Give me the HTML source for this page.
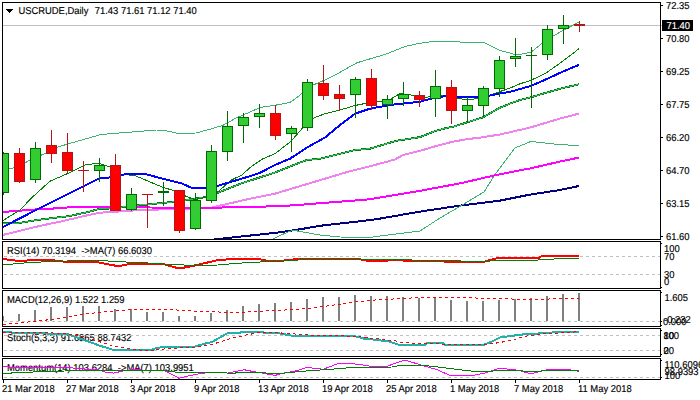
<!DOCTYPE html>
<html><head><meta charset="utf-8"><style>
html,body{margin:0;padding:0;background:#fff;width:700px;height:400px;overflow:hidden}
svg{display:block}
text{white-space:pre}
</style></head><body>
<svg width="700" height="400" viewBox="0 0 700 400" font-family='"Liberation Sans", sans-serif'>
<rect x="0" y="0" width="700" height="400" fill="#ffffff"/>
<defs>
<clipPath id="c0"><rect x="3" y="3" width="657" height="236"/></clipPath>
<clipPath id="c1"><rect x="3" y="242" width="657" height="46"/></clipPath>
<clipPath id="c2"><rect x="3" y="291" width="657" height="35"/></clipPath>
<clipPath id="c3"><rect x="3" y="329" width="657" height="27"/></clipPath>
<clipPath id="c4"><rect x="3" y="359" width="657" height="20"/></clipPath>
</defs>
<g clip-path="url(#c0)">
<rect x="3" y="25" width="657" height="1" fill="#c0c0c0"/>
<polyline points="150,246.8 211,239.8 280,232.3 300,229.3 320,225.8 370,220.1 380,218.6 420,211.6 460,205.6 500,200.6 520,196.6 530,194.6 560,190 579,186" fill="none" stroke="#000080" stroke-width="2" shape-rendering="crispEdges" stroke-linejoin="round"/>
<polyline points="262,244 272,239.5 280,235.5 290,231.2 295,230.5 300,231.5 320,235 340,237 370,237.5 380,236 420,231 440,218 460,206.4 484,192 494,176 506,160 515,148 531,141.4 557,144.4 579,145.6" fill="none" stroke="#3cb371" stroke-width="1" shape-rendering="crispEdges" stroke-linejoin="round"/>
<polyline points="3,234.9 40,225.9 63,221 86,215.6 100,212.7 115,211.8 140,210 180,209 212,207.5 250,198.7 275,193.7 300,186.2 325,178.7 350,171.2 370,166.2 380,163.6 395,159.5 403,155 420,150.8 435,146.4 451,142.1 466,139.3 480,137.6 500,134.5 530,127.6 560,118.6 579,113.6" fill="none" stroke="#ee82ee" stroke-width="2" shape-rendering="crispEdges" stroke-linejoin="round"/>
<polyline points="3,212 35,209.5 51,208.7 67,207.5 83,207 115,207 150,207.5 200,208.0 280,206.2 295,205.2 320,203.2 370,199.3 380,197.5 420,190.8 460,183.4 494,175.5 520,170.3 530,168.5 560,161.5 579,157.6" fill="none" stroke="#ff00ff" stroke-width="2" shape-rendering="crispEdges" stroke-linejoin="round"/>
<polyline points="3,223.5 19,223 40,219.6 69,216.1 88,212.1 100,208.7 110,208.5 136,205.2 147,204.5 174,201.8 185,200.2 206,197 217,193.1 242,183.1 250,180.6 275,172.5 295,164.5 307,160 320,158.7 325,157.5 340,153.7 355,150 370,148.7 380,145.7 389,142.9 397,140.7 406,139.3 414,138.1 420,137.1 427,134.3 434,131.4 444,128.6 454,126.5 467,122.4 483,117.3 499,108.2 510,103.6 520,100 531,97.3 547,92.5 563,88 579,84.3" fill="none" stroke="#008000" stroke-width="2" shape-rendering="crispEdges" stroke-linejoin="round"/>
<polyline points="3,223.5 19,223 40,219.6 69,216.1 88,212.1 100,208.7 110,208.5 136,205.2 147,204.5 174,201.8 185,200.2 206,197 217,193.1 242,183.1 250,180.6 275,172.5 295,164.5 307,160 320,158.7 325,157.5 340,153.7 355,150 370,148.7 380,145.7 389,142.9 397,140.7 406,139.3 414,138.1 420,137.1 427,134.3 434,131.4 444,128.6 454,126.5 467,122.4 483,117.3 499,108.2 510,103.6 520,100 531,97.3 547,92.5 563,88 579,84.3" fill="none" stroke="#3cb371" stroke-width="1" shape-rendering="crispEdges" stroke-linejoin="round"/>
<polyline points="3,220.5 20,210 32,197.5 50,181.2 70,172.5 85,165 92,164 100,163.7 110,167 121,174 136,176 162,187 175,191 186,196.2 195,199.5 205,197.5 217,192.5 232,179.7 242,175 250,167.5 262,159.2 275,153.7 291,141.2 302,128.7 312,118.7 325,113.7 340,110 355,105.5 370,102.5 375,102.3 390,99.6 400,93.6 411,95 423,97.5 432,96.6 441,95 458,98.1 467,100 472,99.4 483,97.5 499,91.9 510,88.1 520,83.8 531,80.3 547,72.4 563,61 579,48.7" fill="none" stroke="#008000" stroke-width="1" shape-rendering="crispEdges" stroke-linejoin="round"/>
<polyline points="3,227 40,208 99,178.6 108,177.8 110,177 121,175 127,174 145,174 162,178.5 182,183.5 192,188 205,187.8 217,186.1 243,178.3 259,173.3 275,165 290,158.7 307,147.5 325,137.5 340,125 355,113.7 370,108.7 390,105 420,101.7 435,97.5 451,95.6 458,96.9 467,97.2 483,96.9 499,93.7 510,91.9 520,89 531,85.9 547,78.9 563,71.5 579,64.9" fill="none" stroke="#0000ff" stroke-width="2" shape-rendering="crispEdges" stroke-linejoin="round"/>
<polyline points="3,169.5 9,169 14,167.8 24,163.5 30,160 46,153 56,147.5 80,140.5 101,134.5 123,132.7 138,131.5 156,130 164,130.2 177,133.3 196,133 210,129.2 223,125.3 236,118 250,112 260,107.5 275,105.3 290,102.4 294,99.7 302,93.4 313,85.1 323,80.8 337,74 349,67.1 357,62.8 364,60.6 374,57.7 383,55.1 390,52.5 405,46.5 417,43.8 431,41.7 459,41.7 461,42.3 484,42.3 500,50.6 510,53 515,54.5 520,54.5 531,52.2 547,39.5 563,30.5 579,22" fill="none" stroke="#3cb371" stroke-width="1" shape-rendering="crispEdges" stroke-linejoin="round"/>
<rect x="3" y="152" width="1" height="43" fill="#006a00"/>
<rect x="-2" y="153" width="11" height="40" fill="#006a00"/>
<rect x="-1" y="154" width="9" height="38" fill="#32cd32"/>
<rect x="19" y="148" width="1" height="35" fill="#b01818"/>
<rect x="14" y="153" width="11" height="29" fill="#b01818"/>
<rect x="15" y="154" width="9" height="27" fill="#ff0000"/>
<rect x="35" y="142" width="1" height="41" fill="#006a00"/>
<rect x="30" y="148" width="11" height="32" fill="#006a00"/>
<rect x="31" y="149" width="9" height="30" fill="#32cd32"/>
<rect x="51" y="130" width="1" height="33" fill="#b01818"/>
<rect x="46" y="145" width="11" height="9" fill="#b01818"/>
<rect x="47" y="146" width="9" height="7" fill="#ff0000"/>
<rect x="67" y="133" width="1" height="41" fill="#b01818"/>
<rect x="62" y="152" width="11" height="19" fill="#b01818"/>
<rect x="63" y="153" width="9" height="17" fill="#ff0000"/>
<rect x="83" y="161" width="1" height="31" fill="#b01818"/>
<rect x="78" y="170" width="11" height="1" fill="#b01818"/>
<rect x="99" y="158" width="1" height="24" fill="#006a00"/>
<rect x="94" y="165" width="11" height="6" fill="#006a00"/>
<rect x="95" y="166" width="9" height="4" fill="#32cd32"/>
<rect x="115" y="154" width="1" height="57" fill="#b01818"/>
<rect x="110" y="165" width="11" height="46" fill="#b01818"/>
<rect x="111" y="166" width="9" height="44" fill="#ff0000"/>
<rect x="131" y="188" width="1" height="23" fill="#006a00"/>
<rect x="126" y="194" width="11" height="16" fill="#006a00"/>
<rect x="127" y="195" width="9" height="14" fill="#32cd32"/>
<rect x="147" y="194" width="1" height="34" fill="#b01818"/>
<rect x="142" y="194" width="11" height="1" fill="#b01818"/>
<rect x="163" y="182" width="1" height="24" fill="#006a00"/>
<rect x="158" y="191" width="11" height="2" fill="#006a00"/>
<rect x="179" y="190" width="1" height="43" fill="#b01818"/>
<rect x="174" y="190" width="11" height="41" fill="#b01818"/>
<rect x="175" y="191" width="9" height="39" fill="#ff0000"/>
<rect x="195" y="193" width="1" height="37" fill="#006a00"/>
<rect x="190" y="200" width="11" height="29" fill="#006a00"/>
<rect x="191" y="201" width="9" height="27" fill="#32cd32"/>
<rect x="211" y="145" width="1" height="58" fill="#006a00"/>
<rect x="206" y="151" width="11" height="50" fill="#006a00"/>
<rect x="207" y="152" width="9" height="48" fill="#32cd32"/>
<rect x="227" y="111" width="1" height="50" fill="#006a00"/>
<rect x="222" y="126" width="11" height="26" fill="#006a00"/>
<rect x="223" y="127" width="9" height="24" fill="#32cd32"/>
<rect x="243" y="113" width="1" height="30" fill="#006a00"/>
<rect x="238" y="117" width="11" height="9" fill="#006a00"/>
<rect x="239" y="118" width="9" height="7" fill="#32cd32"/>
<rect x="259" y="104" width="1" height="24" fill="#006a00"/>
<rect x="254" y="113" width="11" height="4" fill="#006a00"/>
<rect x="255" y="114" width="9" height="2" fill="#32cd32"/>
<rect x="275" y="105" width="1" height="35" fill="#b01818"/>
<rect x="270" y="113" width="11" height="23" fill="#b01818"/>
<rect x="271" y="114" width="9" height="21" fill="#ff0000"/>
<rect x="291" y="126" width="1" height="26" fill="#006a00"/>
<rect x="286" y="128" width="11" height="6" fill="#006a00"/>
<rect x="287" y="129" width="9" height="4" fill="#32cd32"/>
<rect x="307" y="79" width="1" height="52" fill="#006a00"/>
<rect x="302" y="82" width="11" height="46" fill="#006a00"/>
<rect x="303" y="83" width="9" height="44" fill="#32cd32"/>
<rect x="323" y="65" width="1" height="35" fill="#b01818"/>
<rect x="318" y="83" width="11" height="13" fill="#b01818"/>
<rect x="319" y="84" width="9" height="11" fill="#ff0000"/>
<rect x="339" y="85" width="1" height="26" fill="#b01818"/>
<rect x="334" y="94" width="11" height="5" fill="#b01818"/>
<rect x="335" y="95" width="9" height="3" fill="#ff0000"/>
<rect x="355" y="77" width="1" height="41" fill="#006a00"/>
<rect x="350" y="79" width="11" height="16" fill="#006a00"/>
<rect x="351" y="80" width="9" height="14" fill="#32cd32"/>
<rect x="371" y="69" width="1" height="41" fill="#b01818"/>
<rect x="366" y="78" width="11" height="28" fill="#b01818"/>
<rect x="367" y="79" width="9" height="26" fill="#ff0000"/>
<rect x="387" y="95" width="1" height="24" fill="#006a00"/>
<rect x="382" y="99" width="11" height="6" fill="#006a00"/>
<rect x="383" y="100" width="9" height="4" fill="#32cd32"/>
<rect x="403" y="82" width="1" height="24" fill="#006a00"/>
<rect x="398" y="94" width="11" height="5" fill="#006a00"/>
<rect x="399" y="95" width="9" height="3" fill="#32cd32"/>
<rect x="419" y="91" width="1" height="16" fill="#b01818"/>
<rect x="414" y="95" width="11" height="5" fill="#b01818"/>
<rect x="415" y="96" width="9" height="3" fill="#ff0000"/>
<rect x="435" y="70" width="1" height="47" fill="#006a00"/>
<rect x="430" y="86" width="11" height="13" fill="#006a00"/>
<rect x="431" y="87" width="9" height="11" fill="#32cd32"/>
<rect x="451" y="80" width="1" height="44" fill="#b01818"/>
<rect x="446" y="87" width="11" height="24" fill="#b01818"/>
<rect x="447" y="88" width="9" height="22" fill="#ff0000"/>
<rect x="467" y="97" width="1" height="26" fill="#006a00"/>
<rect x="462" y="105" width="11" height="6" fill="#006a00"/>
<rect x="463" y="106" width="9" height="4" fill="#32cd32"/>
<rect x="483" y="86" width="1" height="31" fill="#006a00"/>
<rect x="478" y="88" width="11" height="18" fill="#006a00"/>
<rect x="479" y="89" width="9" height="16" fill="#32cd32"/>
<rect x="499" y="56" width="1" height="41" fill="#006a00"/>
<rect x="494" y="60" width="11" height="29" fill="#006a00"/>
<rect x="495" y="61" width="9" height="27" fill="#32cd32"/>
<rect x="515" y="38" width="1" height="29" fill="#006a00"/>
<rect x="510" y="56" width="11" height="3" fill="#006a00"/>
<rect x="511" y="57" width="9" height="1" fill="#32cd32"/>
<rect x="531" y="47" width="1" height="61" fill="#006a00"/>
<rect x="526" y="55" width="11" height="1" fill="#006a00"/>
<rect x="547" y="25" width="1" height="35" fill="#006a00"/>
<rect x="542" y="29" width="11" height="26" fill="#006a00"/>
<rect x="543" y="30" width="9" height="24" fill="#32cd32"/>
<rect x="563" y="15" width="1" height="29" fill="#006a00"/>
<rect x="558" y="25" width="11" height="4" fill="#006a00"/>
<rect x="559" y="26" width="9" height="2" fill="#32cd32"/>
<rect x="579" y="21" width="1" height="11" fill="#b01818"/>
<rect x="574" y="24" width="11" height="2" fill="#b01818"/>
</g>
<g clip-path="url(#c1)">
<text transform="translate(7 254) scale(0.94 1)" fill="#000" font-size="10px" text-rendering="geometricPrecision" stroke="#000" stroke-width="0.15">RSI(14) 70.3194  -&gt;MA(7) 66.6030</text>
<rect x="4" y="256" width="3" height="1" fill="#c0c0c0"/>
<rect x="10" y="256" width="3" height="1" fill="#c0c0c0"/>
<rect x="16" y="256" width="3" height="1" fill="#c0c0c0"/>
<rect x="22" y="256" width="3" height="1" fill="#c0c0c0"/>
<rect x="28" y="256" width="3" height="1" fill="#c0c0c0"/>
<rect x="34" y="256" width="3" height="1" fill="#c0c0c0"/>
<rect x="40" y="256" width="3" height="1" fill="#c0c0c0"/>
<rect x="46" y="256" width="3" height="1" fill="#c0c0c0"/>
<rect x="52" y="256" width="3" height="1" fill="#c0c0c0"/>
<rect x="58" y="256" width="3" height="1" fill="#c0c0c0"/>
<rect x="64" y="256" width="3" height="1" fill="#c0c0c0"/>
<rect x="70" y="256" width="3" height="1" fill="#c0c0c0"/>
<rect x="76" y="256" width="3" height="1" fill="#c0c0c0"/>
<rect x="82" y="256" width="3" height="1" fill="#c0c0c0"/>
<rect x="88" y="256" width="3" height="1" fill="#c0c0c0"/>
<rect x="94" y="256" width="3" height="1" fill="#c0c0c0"/>
<rect x="100" y="256" width="3" height="1" fill="#c0c0c0"/>
<rect x="106" y="256" width="3" height="1" fill="#c0c0c0"/>
<rect x="112" y="256" width="3" height="1" fill="#c0c0c0"/>
<rect x="118" y="256" width="3" height="1" fill="#c0c0c0"/>
<rect x="124" y="256" width="3" height="1" fill="#c0c0c0"/>
<rect x="130" y="256" width="3" height="1" fill="#c0c0c0"/>
<rect x="136" y="256" width="3" height="1" fill="#c0c0c0"/>
<rect x="142" y="256" width="3" height="1" fill="#c0c0c0"/>
<rect x="148" y="256" width="3" height="1" fill="#c0c0c0"/>
<rect x="154" y="256" width="3" height="1" fill="#c0c0c0"/>
<rect x="160" y="256" width="3" height="1" fill="#c0c0c0"/>
<rect x="166" y="256" width="3" height="1" fill="#c0c0c0"/>
<rect x="172" y="256" width="3" height="1" fill="#c0c0c0"/>
<rect x="178" y="256" width="3" height="1" fill="#c0c0c0"/>
<rect x="184" y="256" width="3" height="1" fill="#c0c0c0"/>
<rect x="190" y="256" width="3" height="1" fill="#c0c0c0"/>
<rect x="196" y="256" width="3" height="1" fill="#c0c0c0"/>
<rect x="202" y="256" width="3" height="1" fill="#c0c0c0"/>
<rect x="208" y="256" width="3" height="1" fill="#c0c0c0"/>
<rect x="214" y="256" width="3" height="1" fill="#c0c0c0"/>
<rect x="220" y="256" width="3" height="1" fill="#c0c0c0"/>
<rect x="226" y="256" width="3" height="1" fill="#c0c0c0"/>
<rect x="232" y="256" width="3" height="1" fill="#c0c0c0"/>
<rect x="238" y="256" width="3" height="1" fill="#c0c0c0"/>
<rect x="244" y="256" width="3" height="1" fill="#c0c0c0"/>
<rect x="250" y="256" width="3" height="1" fill="#c0c0c0"/>
<rect x="256" y="256" width="3" height="1" fill="#c0c0c0"/>
<rect x="262" y="256" width="3" height="1" fill="#c0c0c0"/>
<rect x="268" y="256" width="3" height="1" fill="#c0c0c0"/>
<rect x="274" y="256" width="3" height="1" fill="#c0c0c0"/>
<rect x="280" y="256" width="3" height="1" fill="#c0c0c0"/>
<rect x="286" y="256" width="3" height="1" fill="#c0c0c0"/>
<rect x="292" y="256" width="3" height="1" fill="#c0c0c0"/>
<rect x="298" y="256" width="3" height="1" fill="#c0c0c0"/>
<rect x="304" y="256" width="3" height="1" fill="#c0c0c0"/>
<rect x="310" y="256" width="3" height="1" fill="#c0c0c0"/>
<rect x="316" y="256" width="3" height="1" fill="#c0c0c0"/>
<rect x="322" y="256" width="3" height="1" fill="#c0c0c0"/>
<rect x="328" y="256" width="3" height="1" fill="#c0c0c0"/>
<rect x="334" y="256" width="3" height="1" fill="#c0c0c0"/>
<rect x="340" y="256" width="3" height="1" fill="#c0c0c0"/>
<rect x="346" y="256" width="3" height="1" fill="#c0c0c0"/>
<rect x="352" y="256" width="3" height="1" fill="#c0c0c0"/>
<rect x="358" y="256" width="3" height="1" fill="#c0c0c0"/>
<rect x="364" y="256" width="3" height="1" fill="#c0c0c0"/>
<rect x="370" y="256" width="3" height="1" fill="#c0c0c0"/>
<rect x="376" y="256" width="3" height="1" fill="#c0c0c0"/>
<rect x="382" y="256" width="3" height="1" fill="#c0c0c0"/>
<rect x="388" y="256" width="3" height="1" fill="#c0c0c0"/>
<rect x="394" y="256" width="3" height="1" fill="#c0c0c0"/>
<rect x="400" y="256" width="3" height="1" fill="#c0c0c0"/>
<rect x="406" y="256" width="3" height="1" fill="#c0c0c0"/>
<rect x="412" y="256" width="3" height="1" fill="#c0c0c0"/>
<rect x="418" y="256" width="3" height="1" fill="#c0c0c0"/>
<rect x="424" y="256" width="3" height="1" fill="#c0c0c0"/>
<rect x="430" y="256" width="3" height="1" fill="#c0c0c0"/>
<rect x="436" y="256" width="3" height="1" fill="#c0c0c0"/>
<rect x="442" y="256" width="3" height="1" fill="#c0c0c0"/>
<rect x="448" y="256" width="3" height="1" fill="#c0c0c0"/>
<rect x="454" y="256" width="3" height="1" fill="#c0c0c0"/>
<rect x="460" y="256" width="3" height="1" fill="#c0c0c0"/>
<rect x="466" y="256" width="3" height="1" fill="#c0c0c0"/>
<rect x="472" y="256" width="3" height="1" fill="#c0c0c0"/>
<rect x="478" y="256" width="3" height="1" fill="#c0c0c0"/>
<rect x="484" y="256" width="3" height="1" fill="#c0c0c0"/>
<rect x="490" y="256" width="3" height="1" fill="#c0c0c0"/>
<rect x="496" y="256" width="3" height="1" fill="#c0c0c0"/>
<rect x="502" y="256" width="3" height="1" fill="#c0c0c0"/>
<rect x="508" y="256" width="3" height="1" fill="#c0c0c0"/>
<rect x="514" y="256" width="3" height="1" fill="#c0c0c0"/>
<rect x="520" y="256" width="3" height="1" fill="#c0c0c0"/>
<rect x="526" y="256" width="3" height="1" fill="#c0c0c0"/>
<rect x="532" y="256" width="3" height="1" fill="#c0c0c0"/>
<rect x="538" y="256" width="3" height="1" fill="#c0c0c0"/>
<rect x="544" y="256" width="3" height="1" fill="#c0c0c0"/>
<rect x="550" y="256" width="3" height="1" fill="#c0c0c0"/>
<rect x="556" y="256" width="3" height="1" fill="#c0c0c0"/>
<rect x="562" y="256" width="3" height="1" fill="#c0c0c0"/>
<rect x="568" y="256" width="3" height="1" fill="#c0c0c0"/>
<rect x="574" y="256" width="3" height="1" fill="#c0c0c0"/>
<rect x="580" y="256" width="3" height="1" fill="#c0c0c0"/>
<rect x="586" y="256" width="3" height="1" fill="#c0c0c0"/>
<rect x="592" y="256" width="3" height="1" fill="#c0c0c0"/>
<rect x="598" y="256" width="3" height="1" fill="#c0c0c0"/>
<rect x="604" y="256" width="3" height="1" fill="#c0c0c0"/>
<rect x="610" y="256" width="3" height="1" fill="#c0c0c0"/>
<rect x="616" y="256" width="3" height="1" fill="#c0c0c0"/>
<rect x="622" y="256" width="3" height="1" fill="#c0c0c0"/>
<rect x="628" y="256" width="3" height="1" fill="#c0c0c0"/>
<rect x="634" y="256" width="3" height="1" fill="#c0c0c0"/>
<rect x="640" y="256" width="3" height="1" fill="#c0c0c0"/>
<rect x="646" y="256" width="3" height="1" fill="#c0c0c0"/>
<rect x="652" y="256" width="3" height="1" fill="#c0c0c0"/>
<rect x="658" y="256" width="2" height="1" fill="#c0c0c0"/>
<rect x="4" y="274" width="3" height="1" fill="#c0c0c0"/>
<rect x="10" y="274" width="3" height="1" fill="#c0c0c0"/>
<rect x="16" y="274" width="3" height="1" fill="#c0c0c0"/>
<rect x="22" y="274" width="3" height="1" fill="#c0c0c0"/>
<rect x="28" y="274" width="3" height="1" fill="#c0c0c0"/>
<rect x="34" y="274" width="3" height="1" fill="#c0c0c0"/>
<rect x="40" y="274" width="3" height="1" fill="#c0c0c0"/>
<rect x="46" y="274" width="3" height="1" fill="#c0c0c0"/>
<rect x="52" y="274" width="3" height="1" fill="#c0c0c0"/>
<rect x="58" y="274" width="3" height="1" fill="#c0c0c0"/>
<rect x="64" y="274" width="3" height="1" fill="#c0c0c0"/>
<rect x="70" y="274" width="3" height="1" fill="#c0c0c0"/>
<rect x="76" y="274" width="3" height="1" fill="#c0c0c0"/>
<rect x="82" y="274" width="3" height="1" fill="#c0c0c0"/>
<rect x="88" y="274" width="3" height="1" fill="#c0c0c0"/>
<rect x="94" y="274" width="3" height="1" fill="#c0c0c0"/>
<rect x="100" y="274" width="3" height="1" fill="#c0c0c0"/>
<rect x="106" y="274" width="3" height="1" fill="#c0c0c0"/>
<rect x="112" y="274" width="3" height="1" fill="#c0c0c0"/>
<rect x="118" y="274" width="3" height="1" fill="#c0c0c0"/>
<rect x="124" y="274" width="3" height="1" fill="#c0c0c0"/>
<rect x="130" y="274" width="3" height="1" fill="#c0c0c0"/>
<rect x="136" y="274" width="3" height="1" fill="#c0c0c0"/>
<rect x="142" y="274" width="3" height="1" fill="#c0c0c0"/>
<rect x="148" y="274" width="3" height="1" fill="#c0c0c0"/>
<rect x="154" y="274" width="3" height="1" fill="#c0c0c0"/>
<rect x="160" y="274" width="3" height="1" fill="#c0c0c0"/>
<rect x="166" y="274" width="3" height="1" fill="#c0c0c0"/>
<rect x="172" y="274" width="3" height="1" fill="#c0c0c0"/>
<rect x="178" y="274" width="3" height="1" fill="#c0c0c0"/>
<rect x="184" y="274" width="3" height="1" fill="#c0c0c0"/>
<rect x="190" y="274" width="3" height="1" fill="#c0c0c0"/>
<rect x="196" y="274" width="3" height="1" fill="#c0c0c0"/>
<rect x="202" y="274" width="3" height="1" fill="#c0c0c0"/>
<rect x="208" y="274" width="3" height="1" fill="#c0c0c0"/>
<rect x="214" y="274" width="3" height="1" fill="#c0c0c0"/>
<rect x="220" y="274" width="3" height="1" fill="#c0c0c0"/>
<rect x="226" y="274" width="3" height="1" fill="#c0c0c0"/>
<rect x="232" y="274" width="3" height="1" fill="#c0c0c0"/>
<rect x="238" y="274" width="3" height="1" fill="#c0c0c0"/>
<rect x="244" y="274" width="3" height="1" fill="#c0c0c0"/>
<rect x="250" y="274" width="3" height="1" fill="#c0c0c0"/>
<rect x="256" y="274" width="3" height="1" fill="#c0c0c0"/>
<rect x="262" y="274" width="3" height="1" fill="#c0c0c0"/>
<rect x="268" y="274" width="3" height="1" fill="#c0c0c0"/>
<rect x="274" y="274" width="3" height="1" fill="#c0c0c0"/>
<rect x="280" y="274" width="3" height="1" fill="#c0c0c0"/>
<rect x="286" y="274" width="3" height="1" fill="#c0c0c0"/>
<rect x="292" y="274" width="3" height="1" fill="#c0c0c0"/>
<rect x="298" y="274" width="3" height="1" fill="#c0c0c0"/>
<rect x="304" y="274" width="3" height="1" fill="#c0c0c0"/>
<rect x="310" y="274" width="3" height="1" fill="#c0c0c0"/>
<rect x="316" y="274" width="3" height="1" fill="#c0c0c0"/>
<rect x="322" y="274" width="3" height="1" fill="#c0c0c0"/>
<rect x="328" y="274" width="3" height="1" fill="#c0c0c0"/>
<rect x="334" y="274" width="3" height="1" fill="#c0c0c0"/>
<rect x="340" y="274" width="3" height="1" fill="#c0c0c0"/>
<rect x="346" y="274" width="3" height="1" fill="#c0c0c0"/>
<rect x="352" y="274" width="3" height="1" fill="#c0c0c0"/>
<rect x="358" y="274" width="3" height="1" fill="#c0c0c0"/>
<rect x="364" y="274" width="3" height="1" fill="#c0c0c0"/>
<rect x="370" y="274" width="3" height="1" fill="#c0c0c0"/>
<rect x="376" y="274" width="3" height="1" fill="#c0c0c0"/>
<rect x="382" y="274" width="3" height="1" fill="#c0c0c0"/>
<rect x="388" y="274" width="3" height="1" fill="#c0c0c0"/>
<rect x="394" y="274" width="3" height="1" fill="#c0c0c0"/>
<rect x="400" y="274" width="3" height="1" fill="#c0c0c0"/>
<rect x="406" y="274" width="3" height="1" fill="#c0c0c0"/>
<rect x="412" y="274" width="3" height="1" fill="#c0c0c0"/>
<rect x="418" y="274" width="3" height="1" fill="#c0c0c0"/>
<rect x="424" y="274" width="3" height="1" fill="#c0c0c0"/>
<rect x="430" y="274" width="3" height="1" fill="#c0c0c0"/>
<rect x="436" y="274" width="3" height="1" fill="#c0c0c0"/>
<rect x="442" y="274" width="3" height="1" fill="#c0c0c0"/>
<rect x="448" y="274" width="3" height="1" fill="#c0c0c0"/>
<rect x="454" y="274" width="3" height="1" fill="#c0c0c0"/>
<rect x="460" y="274" width="3" height="1" fill="#c0c0c0"/>
<rect x="466" y="274" width="3" height="1" fill="#c0c0c0"/>
<rect x="472" y="274" width="3" height="1" fill="#c0c0c0"/>
<rect x="478" y="274" width="3" height="1" fill="#c0c0c0"/>
<rect x="484" y="274" width="3" height="1" fill="#c0c0c0"/>
<rect x="490" y="274" width="3" height="1" fill="#c0c0c0"/>
<rect x="496" y="274" width="3" height="1" fill="#c0c0c0"/>
<rect x="502" y="274" width="3" height="1" fill="#c0c0c0"/>
<rect x="508" y="274" width="3" height="1" fill="#c0c0c0"/>
<rect x="514" y="274" width="3" height="1" fill="#c0c0c0"/>
<rect x="520" y="274" width="3" height="1" fill="#c0c0c0"/>
<rect x="526" y="274" width="3" height="1" fill="#c0c0c0"/>
<rect x="532" y="274" width="3" height="1" fill="#c0c0c0"/>
<rect x="538" y="274" width="3" height="1" fill="#c0c0c0"/>
<rect x="544" y="274" width="3" height="1" fill="#c0c0c0"/>
<rect x="550" y="274" width="3" height="1" fill="#c0c0c0"/>
<rect x="556" y="274" width="3" height="1" fill="#c0c0c0"/>
<rect x="562" y="274" width="3" height="1" fill="#c0c0c0"/>
<rect x="568" y="274" width="3" height="1" fill="#c0c0c0"/>
<rect x="574" y="274" width="3" height="1" fill="#c0c0c0"/>
<rect x="580" y="274" width="3" height="1" fill="#c0c0c0"/>
<rect x="586" y="274" width="3" height="1" fill="#c0c0c0"/>
<rect x="592" y="274" width="3" height="1" fill="#c0c0c0"/>
<rect x="598" y="274" width="3" height="1" fill="#c0c0c0"/>
<rect x="604" y="274" width="3" height="1" fill="#c0c0c0"/>
<rect x="610" y="274" width="3" height="1" fill="#c0c0c0"/>
<rect x="616" y="274" width="3" height="1" fill="#c0c0c0"/>
<rect x="622" y="274" width="3" height="1" fill="#c0c0c0"/>
<rect x="628" y="274" width="3" height="1" fill="#c0c0c0"/>
<rect x="634" y="274" width="3" height="1" fill="#c0c0c0"/>
<rect x="640" y="274" width="3" height="1" fill="#c0c0c0"/>
<rect x="646" y="274" width="3" height="1" fill="#c0c0c0"/>
<rect x="652" y="274" width="3" height="1" fill="#c0c0c0"/>
<rect x="658" y="274" width="2" height="1" fill="#c0c0c0"/>
<polyline points="3,259 19,261 35,260 51,260 67,262 83,262 99,262.5 115,265.6 122,265.6 131,263.5 147,263.5 163,264 176,267.6 184,267.6 197,265 218,260 240,258.6 259,259 267,260.7 282,260.7 292,259.6 298,259 358,259 367,260.7 387,260.7 389,259.6 402,259.6 404,261 443,261 445,262.2 483,262.2 490,260 498,258 539,258 541,256.4 547,256.4 549,255.9 579,255.9" fill="none" stroke="#ff0000" stroke-width="2" shape-rendering="crispEdges" stroke-linejoin="round"/>
<polyline points="3,264.3 11,264.3 19,263.3 35,262.4 51,261.4 67,261 83,260.5 99,260.5 122,261.8 154,263.3 171,264.6 197,265.4 218,265 235,263.5 251,262.4 283,261 298,260 316,259.4 411,259.6 413,260.3 460,260.3 461,261.3 483,261.3 507,260.3 538,260.3 539,259.3 554,259.3 555,258.3 579,258.3" fill="none" stroke="#008000" stroke-width="1" shape-rendering="crispEdges" stroke-linejoin="round"/>
</g>
<g clip-path="url(#c2)">
<text transform="translate(7 303) scale(0.94 1)" fill="#000" font-size="10px" text-rendering="geometricPrecision" stroke="#000" stroke-width="0.15">MACD(12,26,9) 1.522 1.259</text>
<rect x="4" y="321" width="3" height="1" fill="#c0c0c0"/>
<rect x="10" y="321" width="3" height="1" fill="#c0c0c0"/>
<rect x="16" y="321" width="3" height="1" fill="#c0c0c0"/>
<rect x="22" y="321" width="3" height="1" fill="#c0c0c0"/>
<rect x="28" y="321" width="3" height="1" fill="#c0c0c0"/>
<rect x="34" y="321" width="3" height="1" fill="#c0c0c0"/>
<rect x="40" y="321" width="3" height="1" fill="#c0c0c0"/>
<rect x="46" y="321" width="3" height="1" fill="#c0c0c0"/>
<rect x="52" y="321" width="3" height="1" fill="#c0c0c0"/>
<rect x="58" y="321" width="3" height="1" fill="#c0c0c0"/>
<rect x="64" y="321" width="3" height="1" fill="#c0c0c0"/>
<rect x="70" y="321" width="3" height="1" fill="#c0c0c0"/>
<rect x="76" y="321" width="3" height="1" fill="#c0c0c0"/>
<rect x="82" y="321" width="3" height="1" fill="#c0c0c0"/>
<rect x="88" y="321" width="3" height="1" fill="#c0c0c0"/>
<rect x="94" y="321" width="3" height="1" fill="#c0c0c0"/>
<rect x="100" y="321" width="3" height="1" fill="#c0c0c0"/>
<rect x="106" y="321" width="3" height="1" fill="#c0c0c0"/>
<rect x="112" y="321" width="3" height="1" fill="#c0c0c0"/>
<rect x="118" y="321" width="3" height="1" fill="#c0c0c0"/>
<rect x="124" y="321" width="3" height="1" fill="#c0c0c0"/>
<rect x="130" y="321" width="3" height="1" fill="#c0c0c0"/>
<rect x="136" y="321" width="3" height="1" fill="#c0c0c0"/>
<rect x="142" y="321" width="3" height="1" fill="#c0c0c0"/>
<rect x="148" y="321" width="3" height="1" fill="#c0c0c0"/>
<rect x="154" y="321" width="3" height="1" fill="#c0c0c0"/>
<rect x="160" y="321" width="3" height="1" fill="#c0c0c0"/>
<rect x="166" y="321" width="3" height="1" fill="#c0c0c0"/>
<rect x="172" y="321" width="3" height="1" fill="#c0c0c0"/>
<rect x="178" y="321" width="3" height="1" fill="#c0c0c0"/>
<rect x="184" y="321" width="3" height="1" fill="#c0c0c0"/>
<rect x="190" y="321" width="3" height="1" fill="#c0c0c0"/>
<rect x="196" y="321" width="3" height="1" fill="#c0c0c0"/>
<rect x="202" y="321" width="3" height="1" fill="#c0c0c0"/>
<rect x="208" y="321" width="3" height="1" fill="#c0c0c0"/>
<rect x="214" y="321" width="3" height="1" fill="#c0c0c0"/>
<rect x="220" y="321" width="3" height="1" fill="#c0c0c0"/>
<rect x="226" y="321" width="3" height="1" fill="#c0c0c0"/>
<rect x="232" y="321" width="3" height="1" fill="#c0c0c0"/>
<rect x="238" y="321" width="3" height="1" fill="#c0c0c0"/>
<rect x="244" y="321" width="3" height="1" fill="#c0c0c0"/>
<rect x="250" y="321" width="3" height="1" fill="#c0c0c0"/>
<rect x="256" y="321" width="3" height="1" fill="#c0c0c0"/>
<rect x="262" y="321" width="3" height="1" fill="#c0c0c0"/>
<rect x="268" y="321" width="3" height="1" fill="#c0c0c0"/>
<rect x="274" y="321" width="3" height="1" fill="#c0c0c0"/>
<rect x="280" y="321" width="3" height="1" fill="#c0c0c0"/>
<rect x="286" y="321" width="3" height="1" fill="#c0c0c0"/>
<rect x="292" y="321" width="3" height="1" fill="#c0c0c0"/>
<rect x="298" y="321" width="3" height="1" fill="#c0c0c0"/>
<rect x="304" y="321" width="3" height="1" fill="#c0c0c0"/>
<rect x="310" y="321" width="3" height="1" fill="#c0c0c0"/>
<rect x="316" y="321" width="3" height="1" fill="#c0c0c0"/>
<rect x="322" y="321" width="3" height="1" fill="#c0c0c0"/>
<rect x="328" y="321" width="3" height="1" fill="#c0c0c0"/>
<rect x="334" y="321" width="3" height="1" fill="#c0c0c0"/>
<rect x="340" y="321" width="3" height="1" fill="#c0c0c0"/>
<rect x="346" y="321" width="3" height="1" fill="#c0c0c0"/>
<rect x="352" y="321" width="3" height="1" fill="#c0c0c0"/>
<rect x="358" y="321" width="3" height="1" fill="#c0c0c0"/>
<rect x="364" y="321" width="3" height="1" fill="#c0c0c0"/>
<rect x="370" y="321" width="3" height="1" fill="#c0c0c0"/>
<rect x="376" y="321" width="3" height="1" fill="#c0c0c0"/>
<rect x="382" y="321" width="3" height="1" fill="#c0c0c0"/>
<rect x="388" y="321" width="3" height="1" fill="#c0c0c0"/>
<rect x="394" y="321" width="3" height="1" fill="#c0c0c0"/>
<rect x="400" y="321" width="3" height="1" fill="#c0c0c0"/>
<rect x="406" y="321" width="3" height="1" fill="#c0c0c0"/>
<rect x="412" y="321" width="3" height="1" fill="#c0c0c0"/>
<rect x="418" y="321" width="3" height="1" fill="#c0c0c0"/>
<rect x="424" y="321" width="3" height="1" fill="#c0c0c0"/>
<rect x="430" y="321" width="3" height="1" fill="#c0c0c0"/>
<rect x="436" y="321" width="3" height="1" fill="#c0c0c0"/>
<rect x="442" y="321" width="3" height="1" fill="#c0c0c0"/>
<rect x="448" y="321" width="3" height="1" fill="#c0c0c0"/>
<rect x="454" y="321" width="3" height="1" fill="#c0c0c0"/>
<rect x="460" y="321" width="3" height="1" fill="#c0c0c0"/>
<rect x="466" y="321" width="3" height="1" fill="#c0c0c0"/>
<rect x="472" y="321" width="3" height="1" fill="#c0c0c0"/>
<rect x="478" y="321" width="3" height="1" fill="#c0c0c0"/>
<rect x="484" y="321" width="3" height="1" fill="#c0c0c0"/>
<rect x="490" y="321" width="3" height="1" fill="#c0c0c0"/>
<rect x="496" y="321" width="3" height="1" fill="#c0c0c0"/>
<rect x="502" y="321" width="3" height="1" fill="#c0c0c0"/>
<rect x="508" y="321" width="3" height="1" fill="#c0c0c0"/>
<rect x="514" y="321" width="3" height="1" fill="#c0c0c0"/>
<rect x="520" y="321" width="3" height="1" fill="#c0c0c0"/>
<rect x="526" y="321" width="3" height="1" fill="#c0c0c0"/>
<rect x="532" y="321" width="3" height="1" fill="#c0c0c0"/>
<rect x="538" y="321" width="3" height="1" fill="#c0c0c0"/>
<rect x="544" y="321" width="3" height="1" fill="#c0c0c0"/>
<rect x="550" y="321" width="3" height="1" fill="#c0c0c0"/>
<rect x="556" y="321" width="3" height="1" fill="#c0c0c0"/>
<rect x="562" y="321" width="3" height="1" fill="#c0c0c0"/>
<rect x="568" y="321" width="3" height="1" fill="#c0c0c0"/>
<rect x="574" y="321" width="3" height="1" fill="#c0c0c0"/>
<rect x="580" y="321" width="3" height="1" fill="#c0c0c0"/>
<rect x="586" y="321" width="3" height="1" fill="#c0c0c0"/>
<rect x="592" y="321" width="3" height="1" fill="#c0c0c0"/>
<rect x="598" y="321" width="3" height="1" fill="#c0c0c0"/>
<rect x="604" y="321" width="3" height="1" fill="#c0c0c0"/>
<rect x="610" y="321" width="3" height="1" fill="#c0c0c0"/>
<rect x="616" y="321" width="3" height="1" fill="#c0c0c0"/>
<rect x="622" y="321" width="3" height="1" fill="#c0c0c0"/>
<rect x="628" y="321" width="3" height="1" fill="#c0c0c0"/>
<rect x="634" y="321" width="3" height="1" fill="#c0c0c0"/>
<rect x="640" y="321" width="3" height="1" fill="#c0c0c0"/>
<rect x="646" y="321" width="3" height="1" fill="#c0c0c0"/>
<rect x="652" y="321" width="3" height="1" fill="#c0c0c0"/>
<rect x="658" y="321" width="2" height="1" fill="#c0c0c0"/>
<rect x="2" y="316" width="2" height="5" fill="#808080"/>
<rect x="18" y="314" width="2" height="7" fill="#808080"/>
<rect x="34" y="310" width="2" height="11" fill="#808080"/>
<rect x="50" y="307" width="2" height="14" fill="#808080"/>
<rect x="66" y="307" width="2" height="14" fill="#808080"/>
<rect x="82" y="306" width="2" height="15" fill="#808080"/>
<rect x="98" y="306" width="2" height="15" fill="#808080"/>
<rect x="114" y="309" width="2" height="12" fill="#808080"/>
<rect x="130" y="309" width="2" height="12" fill="#808080"/>
<rect x="146" y="312" width="2" height="9" fill="#808080"/>
<rect x="162" y="312" width="2" height="9" fill="#808080"/>
<rect x="178" y="316" width="2" height="5" fill="#808080"/>
<rect x="194" y="316" width="2" height="5" fill="#808080"/>
<rect x="210" y="313" width="2" height="8" fill="#808080"/>
<rect x="226" y="310" width="2" height="11" fill="#808080"/>
<rect x="242" y="306" width="2" height="15" fill="#808080"/>
<rect x="258" y="304" width="2" height="17" fill="#808080"/>
<rect x="274" y="303" width="2" height="18" fill="#808080"/>
<rect x="290" y="302" width="2" height="19" fill="#808080"/>
<rect x="306" y="299" width="2" height="22" fill="#808080"/>
<rect x="322" y="297" width="2" height="24" fill="#808080"/>
<rect x="338" y="297" width="2" height="24" fill="#808080"/>
<rect x="354" y="295" width="2" height="26" fill="#808080"/>
<rect x="370" y="296" width="2" height="25" fill="#808080"/>
<rect x="386" y="296" width="2" height="25" fill="#808080"/>
<rect x="402" y="297" width="2" height="24" fill="#808080"/>
<rect x="418" y="298" width="2" height="23" fill="#808080"/>
<rect x="434" y="298" width="2" height="23" fill="#808080"/>
<rect x="450" y="300" width="2" height="21" fill="#808080"/>
<rect x="466" y="301" width="2" height="20" fill="#808080"/>
<rect x="482" y="301" width="2" height="20" fill="#808080"/>
<rect x="498" y="300" width="2" height="21" fill="#808080"/>
<rect x="514" y="299" width="2" height="22" fill="#808080"/>
<rect x="530" y="298" width="2" height="23" fill="#808080"/>
<rect x="546" y="296" width="2" height="25" fill="#808080"/>
<rect x="562" y="294" width="2" height="27" fill="#808080"/>
<rect x="578" y="293" width="2" height="28" fill="#808080"/>
<polyline points="3,324.4 19,323 35,321.3 51,319.5 67,317.4 83,314.4 99,312.4 115,311 131,309.4 171,309.1 179,310.3 195,311.2 211,311.4 222,312.2 243,312.2 259,311.2 275,310.5 291,309.7 307,308.6 323,306.6 339,304.3 355,302 371,300.2 387,299.4 403,298.3 419,297.7 467,297.3 483,298.5 499,298.5 515,299.1 547,299.1 563,298.5 579,298.5" fill="none" stroke="#ff0000" stroke-width="1" stroke-dasharray="3,3" shape-rendering="crispEdges" stroke-linejoin="round"/>
</g>
<g clip-path="url(#c3)">
<text transform="translate(7 341) scale(0.94 1)" fill="#000" font-size="10px" text-rendering="geometricPrecision" stroke="#000" stroke-width="0.15">Stoch(5,3,3) 91.6865 88.7432</text>
<rect x="4" y="335" width="3" height="1" fill="#c0c0c0"/>
<rect x="10" y="335" width="3" height="1" fill="#c0c0c0"/>
<rect x="16" y="335" width="3" height="1" fill="#c0c0c0"/>
<rect x="22" y="335" width="3" height="1" fill="#c0c0c0"/>
<rect x="28" y="335" width="3" height="1" fill="#c0c0c0"/>
<rect x="34" y="335" width="3" height="1" fill="#c0c0c0"/>
<rect x="40" y="335" width="3" height="1" fill="#c0c0c0"/>
<rect x="46" y="335" width="3" height="1" fill="#c0c0c0"/>
<rect x="52" y="335" width="3" height="1" fill="#c0c0c0"/>
<rect x="58" y="335" width="3" height="1" fill="#c0c0c0"/>
<rect x="64" y="335" width="3" height="1" fill="#c0c0c0"/>
<rect x="70" y="335" width="3" height="1" fill="#c0c0c0"/>
<rect x="76" y="335" width="3" height="1" fill="#c0c0c0"/>
<rect x="82" y="335" width="3" height="1" fill="#c0c0c0"/>
<rect x="88" y="335" width="3" height="1" fill="#c0c0c0"/>
<rect x="94" y="335" width="3" height="1" fill="#c0c0c0"/>
<rect x="100" y="335" width="3" height="1" fill="#c0c0c0"/>
<rect x="106" y="335" width="3" height="1" fill="#c0c0c0"/>
<rect x="112" y="335" width="3" height="1" fill="#c0c0c0"/>
<rect x="118" y="335" width="3" height="1" fill="#c0c0c0"/>
<rect x="124" y="335" width="3" height="1" fill="#c0c0c0"/>
<rect x="130" y="335" width="3" height="1" fill="#c0c0c0"/>
<rect x="136" y="335" width="3" height="1" fill="#c0c0c0"/>
<rect x="142" y="335" width="3" height="1" fill="#c0c0c0"/>
<rect x="148" y="335" width="3" height="1" fill="#c0c0c0"/>
<rect x="154" y="335" width="3" height="1" fill="#c0c0c0"/>
<rect x="160" y="335" width="3" height="1" fill="#c0c0c0"/>
<rect x="166" y="335" width="3" height="1" fill="#c0c0c0"/>
<rect x="172" y="335" width="3" height="1" fill="#c0c0c0"/>
<rect x="178" y="335" width="3" height="1" fill="#c0c0c0"/>
<rect x="184" y="335" width="3" height="1" fill="#c0c0c0"/>
<rect x="190" y="335" width="3" height="1" fill="#c0c0c0"/>
<rect x="196" y="335" width="3" height="1" fill="#c0c0c0"/>
<rect x="202" y="335" width="3" height="1" fill="#c0c0c0"/>
<rect x="208" y="335" width="3" height="1" fill="#c0c0c0"/>
<rect x="214" y="335" width="3" height="1" fill="#c0c0c0"/>
<rect x="220" y="335" width="3" height="1" fill="#c0c0c0"/>
<rect x="226" y="335" width="3" height="1" fill="#c0c0c0"/>
<rect x="232" y="335" width="3" height="1" fill="#c0c0c0"/>
<rect x="238" y="335" width="3" height="1" fill="#c0c0c0"/>
<rect x="244" y="335" width="3" height="1" fill="#c0c0c0"/>
<rect x="250" y="335" width="3" height="1" fill="#c0c0c0"/>
<rect x="256" y="335" width="3" height="1" fill="#c0c0c0"/>
<rect x="262" y="335" width="3" height="1" fill="#c0c0c0"/>
<rect x="268" y="335" width="3" height="1" fill="#c0c0c0"/>
<rect x="274" y="335" width="3" height="1" fill="#c0c0c0"/>
<rect x="280" y="335" width="3" height="1" fill="#c0c0c0"/>
<rect x="286" y="335" width="3" height="1" fill="#c0c0c0"/>
<rect x="292" y="335" width="3" height="1" fill="#c0c0c0"/>
<rect x="298" y="335" width="3" height="1" fill="#c0c0c0"/>
<rect x="304" y="335" width="3" height="1" fill="#c0c0c0"/>
<rect x="310" y="335" width="3" height="1" fill="#c0c0c0"/>
<rect x="316" y="335" width="3" height="1" fill="#c0c0c0"/>
<rect x="322" y="335" width="3" height="1" fill="#c0c0c0"/>
<rect x="328" y="335" width="3" height="1" fill="#c0c0c0"/>
<rect x="334" y="335" width="3" height="1" fill="#c0c0c0"/>
<rect x="340" y="335" width="3" height="1" fill="#c0c0c0"/>
<rect x="346" y="335" width="3" height="1" fill="#c0c0c0"/>
<rect x="352" y="335" width="3" height="1" fill="#c0c0c0"/>
<rect x="358" y="335" width="3" height="1" fill="#c0c0c0"/>
<rect x="364" y="335" width="3" height="1" fill="#c0c0c0"/>
<rect x="370" y="335" width="3" height="1" fill="#c0c0c0"/>
<rect x="376" y="335" width="3" height="1" fill="#c0c0c0"/>
<rect x="382" y="335" width="3" height="1" fill="#c0c0c0"/>
<rect x="388" y="335" width="3" height="1" fill="#c0c0c0"/>
<rect x="394" y="335" width="3" height="1" fill="#c0c0c0"/>
<rect x="400" y="335" width="3" height="1" fill="#c0c0c0"/>
<rect x="406" y="335" width="3" height="1" fill="#c0c0c0"/>
<rect x="412" y="335" width="3" height="1" fill="#c0c0c0"/>
<rect x="418" y="335" width="3" height="1" fill="#c0c0c0"/>
<rect x="424" y="335" width="3" height="1" fill="#c0c0c0"/>
<rect x="430" y="335" width="3" height="1" fill="#c0c0c0"/>
<rect x="436" y="335" width="3" height="1" fill="#c0c0c0"/>
<rect x="442" y="335" width="3" height="1" fill="#c0c0c0"/>
<rect x="448" y="335" width="3" height="1" fill="#c0c0c0"/>
<rect x="454" y="335" width="3" height="1" fill="#c0c0c0"/>
<rect x="460" y="335" width="3" height="1" fill="#c0c0c0"/>
<rect x="466" y="335" width="3" height="1" fill="#c0c0c0"/>
<rect x="472" y="335" width="3" height="1" fill="#c0c0c0"/>
<rect x="478" y="335" width="3" height="1" fill="#c0c0c0"/>
<rect x="484" y="335" width="3" height="1" fill="#c0c0c0"/>
<rect x="490" y="335" width="3" height="1" fill="#c0c0c0"/>
<rect x="496" y="335" width="3" height="1" fill="#c0c0c0"/>
<rect x="502" y="335" width="3" height="1" fill="#c0c0c0"/>
<rect x="508" y="335" width="3" height="1" fill="#c0c0c0"/>
<rect x="514" y="335" width="3" height="1" fill="#c0c0c0"/>
<rect x="520" y="335" width="3" height="1" fill="#c0c0c0"/>
<rect x="526" y="335" width="3" height="1" fill="#c0c0c0"/>
<rect x="532" y="335" width="3" height="1" fill="#c0c0c0"/>
<rect x="538" y="335" width="3" height="1" fill="#c0c0c0"/>
<rect x="544" y="335" width="3" height="1" fill="#c0c0c0"/>
<rect x="550" y="335" width="3" height="1" fill="#c0c0c0"/>
<rect x="556" y="335" width="3" height="1" fill="#c0c0c0"/>
<rect x="562" y="335" width="3" height="1" fill="#c0c0c0"/>
<rect x="568" y="335" width="3" height="1" fill="#c0c0c0"/>
<rect x="574" y="335" width="3" height="1" fill="#c0c0c0"/>
<rect x="580" y="335" width="3" height="1" fill="#c0c0c0"/>
<rect x="586" y="335" width="3" height="1" fill="#c0c0c0"/>
<rect x="592" y="335" width="3" height="1" fill="#c0c0c0"/>
<rect x="598" y="335" width="3" height="1" fill="#c0c0c0"/>
<rect x="604" y="335" width="3" height="1" fill="#c0c0c0"/>
<rect x="610" y="335" width="3" height="1" fill="#c0c0c0"/>
<rect x="616" y="335" width="3" height="1" fill="#c0c0c0"/>
<rect x="622" y="335" width="3" height="1" fill="#c0c0c0"/>
<rect x="628" y="335" width="3" height="1" fill="#c0c0c0"/>
<rect x="634" y="335" width="3" height="1" fill="#c0c0c0"/>
<rect x="640" y="335" width="3" height="1" fill="#c0c0c0"/>
<rect x="646" y="335" width="3" height="1" fill="#c0c0c0"/>
<rect x="652" y="335" width="3" height="1" fill="#c0c0c0"/>
<rect x="658" y="335" width="2" height="1" fill="#c0c0c0"/>
<rect x="4" y="350" width="3" height="1" fill="#c0c0c0"/>
<rect x="10" y="350" width="3" height="1" fill="#c0c0c0"/>
<rect x="16" y="350" width="3" height="1" fill="#c0c0c0"/>
<rect x="22" y="350" width="3" height="1" fill="#c0c0c0"/>
<rect x="28" y="350" width="3" height="1" fill="#c0c0c0"/>
<rect x="34" y="350" width="3" height="1" fill="#c0c0c0"/>
<rect x="40" y="350" width="3" height="1" fill="#c0c0c0"/>
<rect x="46" y="350" width="3" height="1" fill="#c0c0c0"/>
<rect x="52" y="350" width="3" height="1" fill="#c0c0c0"/>
<rect x="58" y="350" width="3" height="1" fill="#c0c0c0"/>
<rect x="64" y="350" width="3" height="1" fill="#c0c0c0"/>
<rect x="70" y="350" width="3" height="1" fill="#c0c0c0"/>
<rect x="76" y="350" width="3" height="1" fill="#c0c0c0"/>
<rect x="82" y="350" width="3" height="1" fill="#c0c0c0"/>
<rect x="88" y="350" width="3" height="1" fill="#c0c0c0"/>
<rect x="94" y="350" width="3" height="1" fill="#c0c0c0"/>
<rect x="100" y="350" width="3" height="1" fill="#c0c0c0"/>
<rect x="106" y="350" width="3" height="1" fill="#c0c0c0"/>
<rect x="112" y="350" width="3" height="1" fill="#c0c0c0"/>
<rect x="118" y="350" width="3" height="1" fill="#c0c0c0"/>
<rect x="124" y="350" width="3" height="1" fill="#c0c0c0"/>
<rect x="130" y="350" width="3" height="1" fill="#c0c0c0"/>
<rect x="136" y="350" width="3" height="1" fill="#c0c0c0"/>
<rect x="142" y="350" width="3" height="1" fill="#c0c0c0"/>
<rect x="148" y="350" width="3" height="1" fill="#c0c0c0"/>
<rect x="154" y="350" width="3" height="1" fill="#c0c0c0"/>
<rect x="160" y="350" width="3" height="1" fill="#c0c0c0"/>
<rect x="166" y="350" width="3" height="1" fill="#c0c0c0"/>
<rect x="172" y="350" width="3" height="1" fill="#c0c0c0"/>
<rect x="178" y="350" width="3" height="1" fill="#c0c0c0"/>
<rect x="184" y="350" width="3" height="1" fill="#c0c0c0"/>
<rect x="190" y="350" width="3" height="1" fill="#c0c0c0"/>
<rect x="196" y="350" width="3" height="1" fill="#c0c0c0"/>
<rect x="202" y="350" width="3" height="1" fill="#c0c0c0"/>
<rect x="208" y="350" width="3" height="1" fill="#c0c0c0"/>
<rect x="214" y="350" width="3" height="1" fill="#c0c0c0"/>
<rect x="220" y="350" width="3" height="1" fill="#c0c0c0"/>
<rect x="226" y="350" width="3" height="1" fill="#c0c0c0"/>
<rect x="232" y="350" width="3" height="1" fill="#c0c0c0"/>
<rect x="238" y="350" width="3" height="1" fill="#c0c0c0"/>
<rect x="244" y="350" width="3" height="1" fill="#c0c0c0"/>
<rect x="250" y="350" width="3" height="1" fill="#c0c0c0"/>
<rect x="256" y="350" width="3" height="1" fill="#c0c0c0"/>
<rect x="262" y="350" width="3" height="1" fill="#c0c0c0"/>
<rect x="268" y="350" width="3" height="1" fill="#c0c0c0"/>
<rect x="274" y="350" width="3" height="1" fill="#c0c0c0"/>
<rect x="280" y="350" width="3" height="1" fill="#c0c0c0"/>
<rect x="286" y="350" width="3" height="1" fill="#c0c0c0"/>
<rect x="292" y="350" width="3" height="1" fill="#c0c0c0"/>
<rect x="298" y="350" width="3" height="1" fill="#c0c0c0"/>
<rect x="304" y="350" width="3" height="1" fill="#c0c0c0"/>
<rect x="310" y="350" width="3" height="1" fill="#c0c0c0"/>
<rect x="316" y="350" width="3" height="1" fill="#c0c0c0"/>
<rect x="322" y="350" width="3" height="1" fill="#c0c0c0"/>
<rect x="328" y="350" width="3" height="1" fill="#c0c0c0"/>
<rect x="334" y="350" width="3" height="1" fill="#c0c0c0"/>
<rect x="340" y="350" width="3" height="1" fill="#c0c0c0"/>
<rect x="346" y="350" width="3" height="1" fill="#c0c0c0"/>
<rect x="352" y="350" width="3" height="1" fill="#c0c0c0"/>
<rect x="358" y="350" width="3" height="1" fill="#c0c0c0"/>
<rect x="364" y="350" width="3" height="1" fill="#c0c0c0"/>
<rect x="370" y="350" width="3" height="1" fill="#c0c0c0"/>
<rect x="376" y="350" width="3" height="1" fill="#c0c0c0"/>
<rect x="382" y="350" width="3" height="1" fill="#c0c0c0"/>
<rect x="388" y="350" width="3" height="1" fill="#c0c0c0"/>
<rect x="394" y="350" width="3" height="1" fill="#c0c0c0"/>
<rect x="400" y="350" width="3" height="1" fill="#c0c0c0"/>
<rect x="406" y="350" width="3" height="1" fill="#c0c0c0"/>
<rect x="412" y="350" width="3" height="1" fill="#c0c0c0"/>
<rect x="418" y="350" width="3" height="1" fill="#c0c0c0"/>
<rect x="424" y="350" width="3" height="1" fill="#c0c0c0"/>
<rect x="430" y="350" width="3" height="1" fill="#c0c0c0"/>
<rect x="436" y="350" width="3" height="1" fill="#c0c0c0"/>
<rect x="442" y="350" width="3" height="1" fill="#c0c0c0"/>
<rect x="448" y="350" width="3" height="1" fill="#c0c0c0"/>
<rect x="454" y="350" width="3" height="1" fill="#c0c0c0"/>
<rect x="460" y="350" width="3" height="1" fill="#c0c0c0"/>
<rect x="466" y="350" width="3" height="1" fill="#c0c0c0"/>
<rect x="472" y="350" width="3" height="1" fill="#c0c0c0"/>
<rect x="478" y="350" width="3" height="1" fill="#c0c0c0"/>
<rect x="484" y="350" width="3" height="1" fill="#c0c0c0"/>
<rect x="490" y="350" width="3" height="1" fill="#c0c0c0"/>
<rect x="496" y="350" width="3" height="1" fill="#c0c0c0"/>
<rect x="502" y="350" width="3" height="1" fill="#c0c0c0"/>
<rect x="508" y="350" width="3" height="1" fill="#c0c0c0"/>
<rect x="514" y="350" width="3" height="1" fill="#c0c0c0"/>
<rect x="520" y="350" width="3" height="1" fill="#c0c0c0"/>
<rect x="526" y="350" width="3" height="1" fill="#c0c0c0"/>
<rect x="532" y="350" width="3" height="1" fill="#c0c0c0"/>
<rect x="538" y="350" width="3" height="1" fill="#c0c0c0"/>
<rect x="544" y="350" width="3" height="1" fill="#c0c0c0"/>
<rect x="550" y="350" width="3" height="1" fill="#c0c0c0"/>
<rect x="556" y="350" width="3" height="1" fill="#c0c0c0"/>
<rect x="562" y="350" width="3" height="1" fill="#c0c0c0"/>
<rect x="568" y="350" width="3" height="1" fill="#c0c0c0"/>
<rect x="574" y="350" width="3" height="1" fill="#c0c0c0"/>
<rect x="580" y="350" width="3" height="1" fill="#c0c0c0"/>
<rect x="586" y="350" width="3" height="1" fill="#c0c0c0"/>
<rect x="592" y="350" width="3" height="1" fill="#c0c0c0"/>
<rect x="598" y="350" width="3" height="1" fill="#c0c0c0"/>
<rect x="604" y="350" width="3" height="1" fill="#c0c0c0"/>
<rect x="610" y="350" width="3" height="1" fill="#c0c0c0"/>
<rect x="616" y="350" width="3" height="1" fill="#c0c0c0"/>
<rect x="622" y="350" width="3" height="1" fill="#c0c0c0"/>
<rect x="628" y="350" width="3" height="1" fill="#c0c0c0"/>
<rect x="634" y="350" width="3" height="1" fill="#c0c0c0"/>
<rect x="640" y="350" width="3" height="1" fill="#c0c0c0"/>
<rect x="646" y="350" width="3" height="1" fill="#c0c0c0"/>
<rect x="652" y="350" width="3" height="1" fill="#c0c0c0"/>
<rect x="658" y="350" width="2" height="1" fill="#c0c0c0"/>
<polyline points="3,332 11,332 12,333.4 43,333.4 51,333.6 67,334 83,339.7 99,345.4 113,349.8 151,349.8 156,348.3 160,347.5 193,347 207,343.1 212,342 228,332.9 244,332.4 257,331.7 260,332.4 276,332.9 292,335.6 323,336.3 355,336.3 364,338.6 375,339.7 389,341.5 398,344.6 426,344.6 427,343.3 443,343.3 445,344.7 484,344.7 491,342 500,337.4 514,335.6 519,334.7 532,334 546,332.9 564,331.7 579,331.7" fill="none" stroke="#20b2aa" stroke-width="2" shape-rendering="crispEdges" stroke-linejoin="round"/>
<polyline points="3,332.3 43,332.3 51,332.9 67,334 83,336.3 99,341.5 111,345.4 115,346.5 120,347.1 125,348 131,349.3 138,349.3 141,350.4 153,350.4 155,349.3 159,349.3 196,347 214,343.8 230,338.6 246,335.1 257,332.9 280,332.9 310,335.1 355,336.3 375,338.6 396,340.9 403,342.7 426,343.8 484,344.7 496,343.1 509,340.9 525,336.3 541,334 560,332.9 579,331.7" fill="none" stroke="#ff0000" stroke-width="1" stroke-dasharray="3,3" shape-rendering="crispEdges" stroke-linejoin="round"/>
</g>
<g clip-path="url(#c4)">
<text transform="translate(7 371) scale(0.94 1)" fill="#000" font-size="10px" text-rendering="geometricPrecision" stroke="#000" stroke-width="0.15">Momentum(14) 103.6284  -&gt;MA(7) 103.9951</text>
<rect x="4" y="377" width="3" height="1" fill="#c0c0c0"/>
<rect x="10" y="377" width="3" height="1" fill="#c0c0c0"/>
<rect x="16" y="377" width="3" height="1" fill="#c0c0c0"/>
<rect x="22" y="377" width="3" height="1" fill="#c0c0c0"/>
<rect x="28" y="377" width="3" height="1" fill="#c0c0c0"/>
<rect x="34" y="377" width="3" height="1" fill="#c0c0c0"/>
<rect x="40" y="377" width="3" height="1" fill="#c0c0c0"/>
<rect x="46" y="377" width="3" height="1" fill="#c0c0c0"/>
<rect x="52" y="377" width="3" height="1" fill="#c0c0c0"/>
<rect x="58" y="377" width="3" height="1" fill="#c0c0c0"/>
<rect x="64" y="377" width="3" height="1" fill="#c0c0c0"/>
<rect x="70" y="377" width="3" height="1" fill="#c0c0c0"/>
<rect x="76" y="377" width="3" height="1" fill="#c0c0c0"/>
<rect x="82" y="377" width="3" height="1" fill="#c0c0c0"/>
<rect x="88" y="377" width="3" height="1" fill="#c0c0c0"/>
<rect x="94" y="377" width="3" height="1" fill="#c0c0c0"/>
<rect x="100" y="377" width="3" height="1" fill="#c0c0c0"/>
<rect x="106" y="377" width="3" height="1" fill="#c0c0c0"/>
<rect x="112" y="377" width="3" height="1" fill="#c0c0c0"/>
<rect x="118" y="377" width="3" height="1" fill="#c0c0c0"/>
<rect x="124" y="377" width="3" height="1" fill="#c0c0c0"/>
<rect x="130" y="377" width="3" height="1" fill="#c0c0c0"/>
<rect x="136" y="377" width="3" height="1" fill="#c0c0c0"/>
<rect x="142" y="377" width="3" height="1" fill="#c0c0c0"/>
<rect x="148" y="377" width="3" height="1" fill="#c0c0c0"/>
<rect x="154" y="377" width="3" height="1" fill="#c0c0c0"/>
<rect x="160" y="377" width="3" height="1" fill="#c0c0c0"/>
<rect x="166" y="377" width="3" height="1" fill="#c0c0c0"/>
<rect x="172" y="377" width="3" height="1" fill="#c0c0c0"/>
<rect x="178" y="377" width="3" height="1" fill="#c0c0c0"/>
<rect x="184" y="377" width="3" height="1" fill="#c0c0c0"/>
<rect x="190" y="377" width="3" height="1" fill="#c0c0c0"/>
<rect x="196" y="377" width="3" height="1" fill="#c0c0c0"/>
<rect x="202" y="377" width="3" height="1" fill="#c0c0c0"/>
<rect x="208" y="377" width="3" height="1" fill="#c0c0c0"/>
<rect x="214" y="377" width="3" height="1" fill="#c0c0c0"/>
<rect x="220" y="377" width="3" height="1" fill="#c0c0c0"/>
<rect x="226" y="377" width="3" height="1" fill="#c0c0c0"/>
<rect x="232" y="377" width="3" height="1" fill="#c0c0c0"/>
<rect x="238" y="377" width="3" height="1" fill="#c0c0c0"/>
<rect x="244" y="377" width="3" height="1" fill="#c0c0c0"/>
<rect x="250" y="377" width="3" height="1" fill="#c0c0c0"/>
<rect x="256" y="377" width="3" height="1" fill="#c0c0c0"/>
<rect x="262" y="377" width="3" height="1" fill="#c0c0c0"/>
<rect x="268" y="377" width="3" height="1" fill="#c0c0c0"/>
<rect x="274" y="377" width="3" height="1" fill="#c0c0c0"/>
<rect x="280" y="377" width="3" height="1" fill="#c0c0c0"/>
<rect x="286" y="377" width="3" height="1" fill="#c0c0c0"/>
<rect x="292" y="377" width="3" height="1" fill="#c0c0c0"/>
<rect x="298" y="377" width="3" height="1" fill="#c0c0c0"/>
<rect x="304" y="377" width="3" height="1" fill="#c0c0c0"/>
<rect x="310" y="377" width="3" height="1" fill="#c0c0c0"/>
<rect x="316" y="377" width="3" height="1" fill="#c0c0c0"/>
<rect x="322" y="377" width="3" height="1" fill="#c0c0c0"/>
<rect x="328" y="377" width="3" height="1" fill="#c0c0c0"/>
<rect x="334" y="377" width="3" height="1" fill="#c0c0c0"/>
<rect x="340" y="377" width="3" height="1" fill="#c0c0c0"/>
<rect x="346" y="377" width="3" height="1" fill="#c0c0c0"/>
<rect x="352" y="377" width="3" height="1" fill="#c0c0c0"/>
<rect x="358" y="377" width="3" height="1" fill="#c0c0c0"/>
<rect x="364" y="377" width="3" height="1" fill="#c0c0c0"/>
<rect x="370" y="377" width="3" height="1" fill="#c0c0c0"/>
<rect x="376" y="377" width="3" height="1" fill="#c0c0c0"/>
<rect x="382" y="377" width="3" height="1" fill="#c0c0c0"/>
<rect x="388" y="377" width="3" height="1" fill="#c0c0c0"/>
<rect x="394" y="377" width="3" height="1" fill="#c0c0c0"/>
<rect x="400" y="377" width="3" height="1" fill="#c0c0c0"/>
<rect x="406" y="377" width="3" height="1" fill="#c0c0c0"/>
<rect x="412" y="377" width="3" height="1" fill="#c0c0c0"/>
<rect x="418" y="377" width="3" height="1" fill="#c0c0c0"/>
<rect x="424" y="377" width="3" height="1" fill="#c0c0c0"/>
<rect x="430" y="377" width="3" height="1" fill="#c0c0c0"/>
<rect x="436" y="377" width="3" height="1" fill="#c0c0c0"/>
<rect x="442" y="377" width="3" height="1" fill="#c0c0c0"/>
<rect x="448" y="377" width="3" height="1" fill="#c0c0c0"/>
<rect x="454" y="377" width="3" height="1" fill="#c0c0c0"/>
<rect x="460" y="377" width="3" height="1" fill="#c0c0c0"/>
<rect x="466" y="377" width="3" height="1" fill="#c0c0c0"/>
<rect x="472" y="377" width="3" height="1" fill="#c0c0c0"/>
<rect x="478" y="377" width="3" height="1" fill="#c0c0c0"/>
<rect x="484" y="377" width="3" height="1" fill="#c0c0c0"/>
<rect x="490" y="377" width="3" height="1" fill="#c0c0c0"/>
<rect x="496" y="377" width="3" height="1" fill="#c0c0c0"/>
<rect x="502" y="377" width="3" height="1" fill="#c0c0c0"/>
<rect x="508" y="377" width="3" height="1" fill="#c0c0c0"/>
<rect x="514" y="377" width="3" height="1" fill="#c0c0c0"/>
<rect x="520" y="377" width="3" height="1" fill="#c0c0c0"/>
<rect x="526" y="377" width="3" height="1" fill="#c0c0c0"/>
<rect x="532" y="377" width="3" height="1" fill="#c0c0c0"/>
<rect x="538" y="377" width="3" height="1" fill="#c0c0c0"/>
<rect x="544" y="377" width="3" height="1" fill="#c0c0c0"/>
<rect x="550" y="377" width="3" height="1" fill="#c0c0c0"/>
<rect x="556" y="377" width="3" height="1" fill="#c0c0c0"/>
<rect x="562" y="377" width="3" height="1" fill="#c0c0c0"/>
<rect x="568" y="377" width="3" height="1" fill="#c0c0c0"/>
<rect x="574" y="377" width="3" height="1" fill="#c0c0c0"/>
<rect x="580" y="377" width="3" height="1" fill="#c0c0c0"/>
<rect x="586" y="377" width="3" height="1" fill="#c0c0c0"/>
<rect x="592" y="377" width="3" height="1" fill="#c0c0c0"/>
<rect x="598" y="377" width="3" height="1" fill="#c0c0c0"/>
<rect x="604" y="377" width="3" height="1" fill="#c0c0c0"/>
<rect x="610" y="377" width="3" height="1" fill="#c0c0c0"/>
<rect x="616" y="377" width="3" height="1" fill="#c0c0c0"/>
<rect x="622" y="377" width="3" height="1" fill="#c0c0c0"/>
<rect x="628" y="377" width="3" height="1" fill="#c0c0c0"/>
<rect x="634" y="377" width="3" height="1" fill="#c0c0c0"/>
<rect x="640" y="377" width="3" height="1" fill="#c0c0c0"/>
<rect x="646" y="377" width="3" height="1" fill="#c0c0c0"/>
<rect x="652" y="377" width="3" height="1" fill="#c0c0c0"/>
<rect x="658" y="377" width="2" height="1" fill="#c0c0c0"/>
<polyline points="3,366.3 10,367 19,367 60,367 100,370.2 105,372 114,373.1 123,370.9 132,369.7 146,370.2 164,370.2 179,378.2 191,375.4 203,373.1 219,372.5 228,373.1 237,371.3 244,369.7 253,371.5 259,372.5 275,375.4 284,373.1 296,370.9 307,367.4 323,369.3 337,364 351,363.5 364,365.1 371,366.3 387,366.3 396,362.9 403,360.6 405,360.1 423,365.6 437,369.7 450,375.4 473,375.4 485,373.1 496,369.3 501,368.1 509,369.3 518,370.2 531,373.8 542,370.9 549,369.3 569,369.7 579,371.3" fill="none" stroke="#ff00ff" stroke-width="1" shape-rendering="crispEdges" stroke-linejoin="round"/>
<polyline points="3,373.8 11,373.8 11,372.8 27,372.3 43,371.5 100,370.2 123,370.4 164,370.4 175,372 219,372 228,373.1 260,372.7 268,373.1 284,373.1 307,370.9 330,369.3 353,367.4 392,367 401,365.1 410,365.1 427,365.8 441,367.4 464,370.2 475,371.5 491,371.5 496,370.2 514,370.2 528,371.5 544,370.9 560,370.2 579,370.2" fill="none" stroke="#008000" stroke-width="1" shape-rendering="crispEdges" stroke-linejoin="round"/>
</g>
<rect x="2" y="2" width="659" height="1" fill="#000"/>
<rect x="2" y="239" width="659" height="1" fill="#000"/>
<rect x="2" y="2" width="1" height="238" fill="#000"/>
<rect x="660" y="2" width="1" height="238" fill="#000"/>
<rect x="2" y="241" width="659" height="1" fill="#000"/>
<rect x="2" y="288" width="659" height="1" fill="#000"/>
<rect x="2" y="241" width="1" height="48" fill="#000"/>
<rect x="660" y="241" width="1" height="48" fill="#000"/>
<rect x="2" y="290" width="659" height="1" fill="#000"/>
<rect x="2" y="326" width="659" height="1" fill="#000"/>
<rect x="2" y="290" width="1" height="37" fill="#000"/>
<rect x="660" y="290" width="1" height="37" fill="#000"/>
<rect x="2" y="328" width="659" height="1" fill="#000"/>
<rect x="2" y="356" width="659" height="1" fill="#000"/>
<rect x="2" y="328" width="1" height="29" fill="#000"/>
<rect x="660" y="328" width="1" height="29" fill="#000"/>
<rect x="2" y="358" width="659" height="1" fill="#000"/>
<rect x="2" y="379" width="659" height="1" fill="#000"/>
<rect x="2" y="358" width="1" height="22" fill="#000"/>
<rect x="660" y="358" width="1" height="22" fill="#000"/>
<rect x="661" y="5" width="2" height="1" fill="#000"/>
<text transform="translate(666 9) scale(0.94 1)" fill="#000" font-size="10px" text-rendering="geometricPrecision" stroke="#000" stroke-width="0.15">72.35</text>
<rect x="661" y="38" width="2" height="1" fill="#000"/>
<text transform="translate(666 42) scale(0.94 1)" fill="#000" font-size="10px" text-rendering="geometricPrecision" stroke="#000" stroke-width="0.15">70.80</text>
<rect x="661" y="71" width="2" height="1" fill="#000"/>
<text transform="translate(666 75) scale(0.94 1)" fill="#000" font-size="10px" text-rendering="geometricPrecision" stroke="#000" stroke-width="0.15">69.25</text>
<rect x="661" y="104" width="2" height="1" fill="#000"/>
<text transform="translate(666 108) scale(0.94 1)" fill="#000" font-size="10px" text-rendering="geometricPrecision" stroke="#000" stroke-width="0.15">67.75</text>
<rect x="661" y="137" width="2" height="1" fill="#000"/>
<text transform="translate(666 141) scale(0.94 1)" fill="#000" font-size="10px" text-rendering="geometricPrecision" stroke="#000" stroke-width="0.15">66.20</text>
<rect x="661" y="170" width="2" height="1" fill="#000"/>
<text transform="translate(666 174) scale(0.94 1)" fill="#000" font-size="10px" text-rendering="geometricPrecision" stroke="#000" stroke-width="0.15">64.70</text>
<rect x="661" y="203" width="2" height="1" fill="#000"/>
<text transform="translate(666 207) scale(0.94 1)" fill="#000" font-size="10px" text-rendering="geometricPrecision" stroke="#000" stroke-width="0.15">63.15</text>
<rect x="661" y="236" width="2" height="1" fill="#000"/>
<text transform="translate(666 240) scale(0.94 1)" fill="#000" font-size="10px" text-rendering="geometricPrecision" stroke="#000" stroke-width="0.15">61.60</text>
<rect x="661" y="25" width="1" height="1" fill="#c0c0c0"/>
<rect x="662" y="20" width="31" height="11" fill="#000"/>
<text transform="translate(666.5 29) scale(0.94 1)" fill="#fff" font-size="10px" text-rendering="geometricPrecision" stroke="#fff" stroke-width="0.15">71.40</text>
<rect x="661" y="243" width="1" height="1" fill="#000"/>
<rect x="661" y="287" width="1" height="1" fill="#000"/>
<text transform="translate(664 251.5) scale(0.94 1)" fill="#000" font-size="10px" text-rendering="geometricPrecision" stroke="#000" stroke-width="0.15">100</text>
<text transform="translate(664 259.5) scale(0.94 1)" fill="#000" font-size="10px" text-rendering="geometricPrecision" stroke="#000" stroke-width="0.15">70</text>
<text transform="translate(664 277.5) scale(0.94 1)" fill="#000" font-size="10px" text-rendering="geometricPrecision" stroke="#000" stroke-width="0.15">30</text>
<text transform="translate(664 284.5) scale(0.94 1)" fill="#000" font-size="10px" text-rendering="geometricPrecision" stroke="#000" stroke-width="0.15">0</text>
<rect x="661" y="292" width="1" height="1" fill="#000"/>
<rect x="661" y="321" width="1" height="1" fill="#000"/>
<rect x="661" y="325" width="1" height="1" fill="#000"/>
<text transform="translate(664.5 300.7) scale(0.94 1)" fill="#000" font-size="10px" text-rendering="geometricPrecision" stroke="#000" stroke-width="0.15">1.605</text>
<text transform="translate(663 324.8) scale(0.94 1)" fill="#000" font-size="10px" text-rendering="geometricPrecision" stroke="#000" stroke-width="0.15">0.000</text>
<text transform="translate(664 323) scale(0.94 1)" fill="#000" font-size="10px" text-rendering="geometricPrecision" stroke="#000" stroke-width="0.15">-0.232</text>
<rect x="661" y="330" width="1" height="1" fill="#000"/>
<rect x="661" y="354" width="1" height="1" fill="#000"/>
<text transform="translate(663.4 339) scale(0.94 1)" fill="#000" font-size="10px" text-rendering="geometricPrecision" stroke="#000" stroke-width="0.15">100</text>
<text transform="translate(663.4 339) scale(0.94 1)" fill="#000" font-size="10px" text-rendering="geometricPrecision" stroke="#000" stroke-width="0.15">80</text>
<text transform="translate(663.4 353.7) scale(0.94 1)" fill="#000" font-size="10px" text-rendering="geometricPrecision" stroke="#000" stroke-width="0.15">20</text>
<text transform="translate(663.4 353.7) scale(0.94 1)" fill="#000" font-size="10px" text-rendering="geometricPrecision" stroke="#000" stroke-width="0.15">0</text>
<rect x="661" y="360" width="1" height="1" fill="#000"/>
<rect x="661" y="377" width="1" height="1" fill="#000"/>
<clipPath id="cm"><rect x="661" y="358" width="39" height="21"/></clipPath><g clip-path="url(#cm)">
<text transform="translate(664.6 368.3) scale(0.94 1)" fill="#000" font-size="10px" text-rendering="geometricPrecision" stroke="#000" stroke-width="0.15">110.6096</text>
<text transform="translate(664.6 379) scale(0.94 1)" fill="#000" font-size="10px" text-rendering="geometricPrecision" stroke="#000" stroke-width="0.15">100</text>
<text transform="translate(664.6 375.3) scale(0.94 1)" fill="#000" font-size="10px" text-rendering="geometricPrecision" stroke="#000" stroke-width="0.15">98.9393</text>
</g>
<rect x="3" y="380" width="1" height="3" fill="#000"/>
<text transform="translate(2 392) scale(0.94 1)" fill="#000" font-size="10px" text-rendering="geometricPrecision" stroke="#000" stroke-width="0.15">21 Mar 2018</text>
<rect x="67" y="380" width="1" height="3" fill="#000"/>
<text transform="translate(66 392) scale(0.94 1)" fill="#000" font-size="10px" text-rendering="geometricPrecision" stroke="#000" stroke-width="0.15">27 Mar 2018</text>
<rect x="131" y="380" width="1" height="3" fill="#000"/>
<text transform="translate(130 392) scale(0.94 1)" fill="#000" font-size="10px" text-rendering="geometricPrecision" stroke="#000" stroke-width="0.15">3 Apr 2018</text>
<rect x="195" y="380" width="1" height="3" fill="#000"/>
<text transform="translate(194 392) scale(0.94 1)" fill="#000" font-size="10px" text-rendering="geometricPrecision" stroke="#000" stroke-width="0.15">9 Apr 2018</text>
<rect x="259" y="380" width="1" height="3" fill="#000"/>
<text transform="translate(258 392) scale(0.94 1)" fill="#000" font-size="10px" text-rendering="geometricPrecision" stroke="#000" stroke-width="0.15">13 Apr 2018</text>
<rect x="323" y="380" width="1" height="3" fill="#000"/>
<text transform="translate(322 392) scale(0.94 1)" fill="#000" font-size="10px" text-rendering="geometricPrecision" stroke="#000" stroke-width="0.15">19 Apr 2018</text>
<rect x="387" y="380" width="1" height="3" fill="#000"/>
<text transform="translate(386 392) scale(0.94 1)" fill="#000" font-size="10px" text-rendering="geometricPrecision" stroke="#000" stroke-width="0.15">25 Apr 2018</text>
<rect x="451" y="380" width="1" height="3" fill="#000"/>
<text transform="translate(450 392) scale(0.94 1)" fill="#000" font-size="10px" text-rendering="geometricPrecision" stroke="#000" stroke-width="0.15">1 May 2018</text>
<rect x="515" y="380" width="1" height="3" fill="#000"/>
<text transform="translate(514 392) scale(0.94 1)" fill="#000" font-size="10px" text-rendering="geometricPrecision" stroke="#000" stroke-width="0.15">7 May 2018</text>
<rect x="579" y="380" width="1" height="3" fill="#000"/>
<text transform="translate(578 392) scale(0.94 1)" fill="#000" font-size="10px" text-rendering="geometricPrecision" stroke="#000" stroke-width="0.15">11 May 2018</text>
<rect x="6" y="9" width="7" height="1" fill="#000"/>
<rect x="7" y="10" width="5" height="1" fill="#000"/>
<rect x="8" y="11" width="3" height="1" fill="#000"/>
<rect x="9" y="12" width="1" height="1" fill="#000"/>
<text transform="translate(18.4 14) scale(0.94 1)" fill="#000" font-size="10px" text-rendering="geometricPrecision" stroke="#000" stroke-width="0.15">USCRUDE,Daily</text>
<text transform="translate(94.8 14) scale(0.94 1)" fill="#000" font-size="10px" text-rendering="geometricPrecision" stroke="#000" stroke-width="0.15">71.43 71.61 71.12 71.40</text>
</svg>
</body></html>
